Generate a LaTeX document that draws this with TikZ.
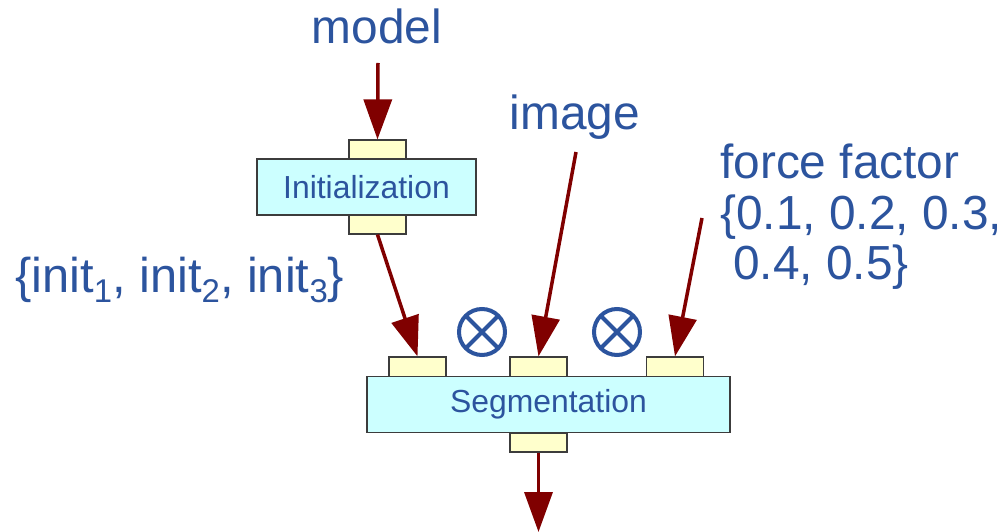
\documentclass[tikz,border=0pt]{standalone}
\usepackage{fontspec}
\setmainfont{Liberation Sans}
\usetikzlibrary{arrows.meta}

\definecolor{textblue}{RGB}{44,84,158}
\definecolor{flowred}{RGB}{128,0,0}
\definecolor{boxfill}{RGB}{204,255,255}
\definecolor{portfill}{RGB}{255,255,204}
\definecolor{edgegray}{RGB}{60,60,60}

% subscript used in the set of initialisations
\newcommand{\lowidx}[1]{\raisebox{-10bp}{\fontsize{33}{33}\selectfont #1}}

\tikzset{
  procbox/.style={draw=edgegray, line width=1.2bp, fill=boxfill, inner sep=0pt,
    text=textblue, font=\fontsize{32}{32}\selectfont},
  portbox/.style={draw=edgegray, line width=1.2bp, fill=portfill, inner sep=0pt,
    minimum width=57bp, minimum height=19bp},
  flow/.style={draw=flowred, line width=3.5bp,
    -{Triangle[length=40bp, width=28bp]}},
  label/.style={text=textblue, inner sep=0pt, font=\fontsize{48}{51}\selectfont},
  combine/.style={circle, draw=textblue, line width=4bp, minimum size=46bp, inner sep=0pt,
    path picture={
      \draw[textblue, line width=4bp]
        (path picture bounding box.north west) -- (path picture bounding box.south east)
        (path picture bounding box.north east) -- (path picture bounding box.south west);
    }},
}

\begin{document}
\begin{tikzpicture}[x=1bp, y=-1bp]
  \useasboundingbox (0,0) rectangle (1005,532);

  % initialization block with its ports
  \node[portbox] (initIn)  at (377.5,149.5) {};
  \node[portbox] (initOut) at (377.5,224.5) {};
  \node[procbox, minimum width=219bp, minimum height=56bp] (init) at (366.5,187) {Initialization};

  % segmentation block with its ports
  \node[portbox, minimum height=20bp] (segA) at (417.5,367) {};
  \node[portbox, minimum height=20bp] (segB) at (538.5,367) {};
  \node[portbox, minimum height=20bp] (segC) at (675,367) {};
  \node[portbox] (segOut) at (538.5,442.5) {};
  \node[procbox, minimum width=363bp, minimum height=56bp] (seg) at (548.5,404.7) {Segmentation};

  % combination operators
  \node[combine] (mixA) at (482,332) {};
  \node[combine] (mixB) at (617,332) {};

  % labels
  \node[label, anchor=base] (model) at (377,44) {model};
  \node[label, anchor=base] (image) at (575,130) {image};
  \node[label, anchor=base west, font=\fontsize{49}{51}\selectfont] (inits) at (15,293)
    {\{init\lowidx{1}, init\lowidx{2}, init\lowidx{3}\}};
  \node[label, anchor=base west, align=left] (force) at (720,280)
    {force factor\\\{0.1, 0.2, 0.3,\\\hspace*{13bp}0.4, 0.5\}};

  % free ends of the connectors
  \coordinate (modelEnd) at (378,63);
  \coordinate (imageEnd) at (576,152);
  \coordinate (forceEnd) at (702,218);
  \coordinate (resultEnd) at (538.5,532);

  % connectors
  \draw[flow] (modelEnd) -- (initIn.north);
  \draw[flow] (initOut.south) -- (segA.north);
  \draw[flow] (imageEnd) -- (segB.north);
  \draw[flow] (forceEnd) -- (segC.north);
  \draw[flow] (segOut.south) -- (resultEnd);
\end{tikzpicture}
\end{document}
